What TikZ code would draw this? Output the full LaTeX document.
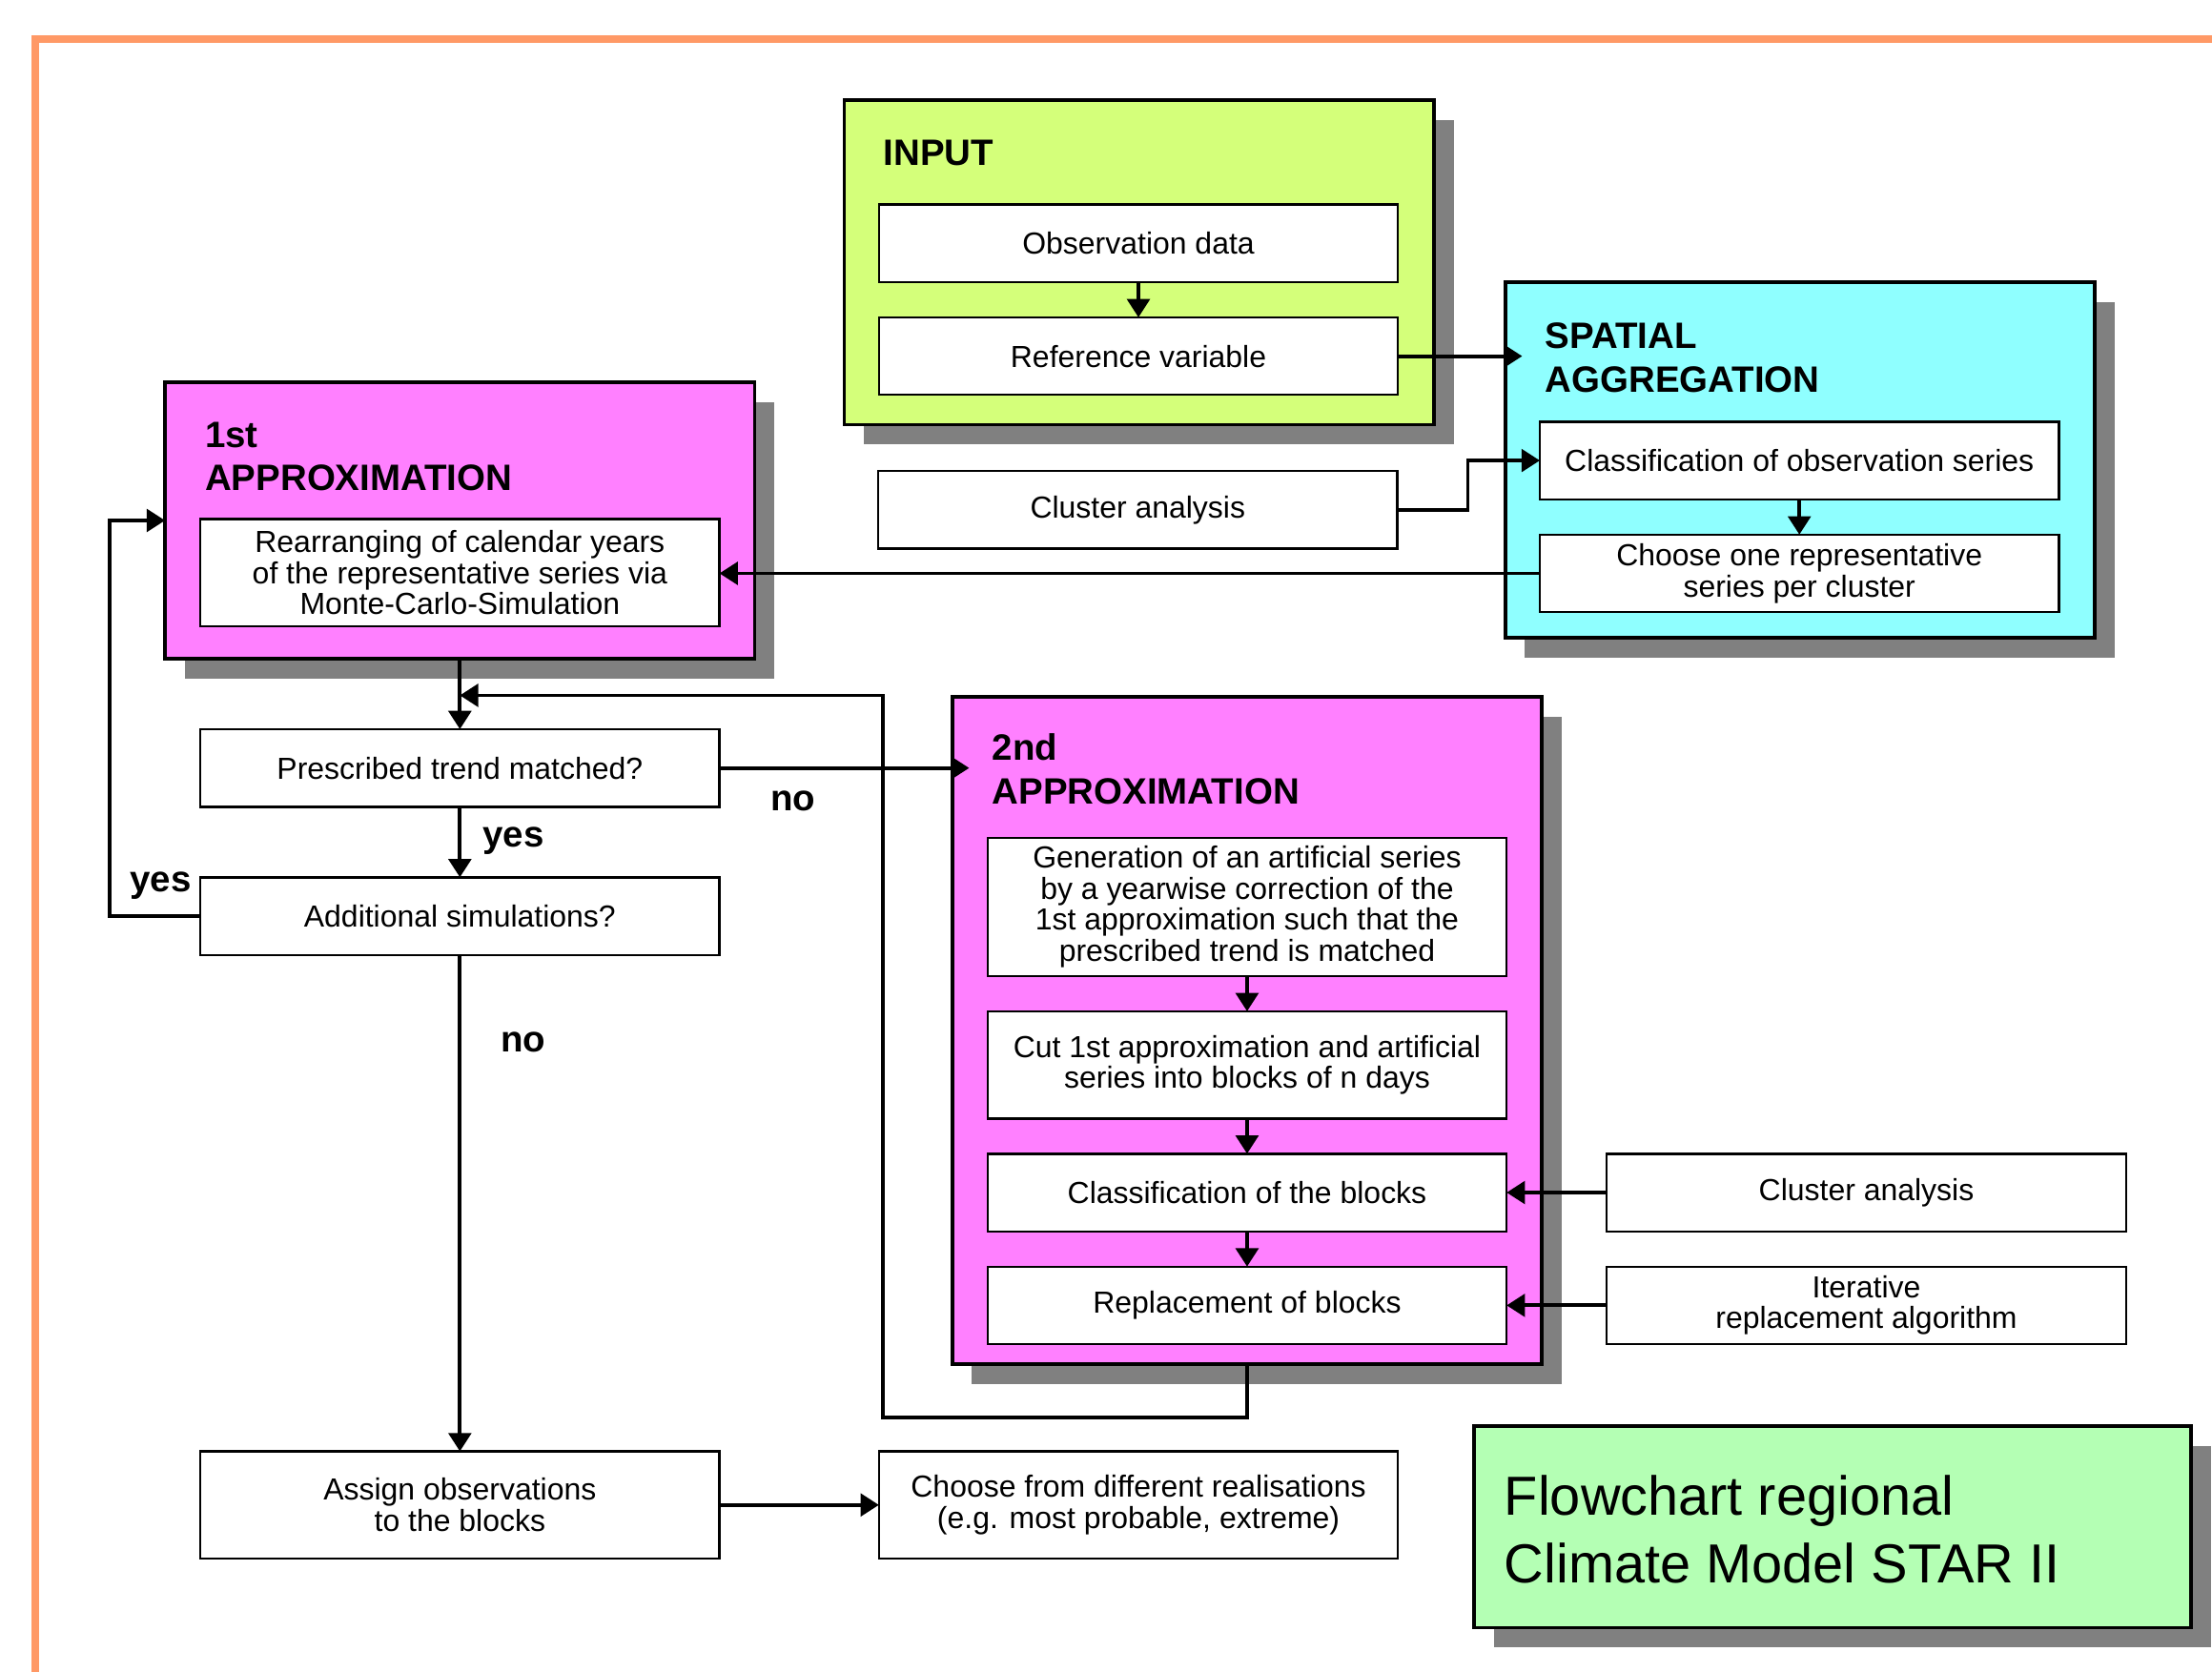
\documentclass[tikz,border=0pt]{standalone}
\usepackage{fontspec}
\setmainfont{Liberation Sans}
\usetikzlibrary{arrows.meta, positioning, calc, shadows}
\definecolor{frameor}{RGB}{255,153,102}
\definecolor{inpfill}{RGB}{212,255,122}
\definecolor{aggfill}{RGB}{143,255,255}
\definecolor{appfill}{RGB}{255,128,255}
\definecolor{titfill}{RGB}{180,255,180}
\definecolor{shade}{RGB}{128,128,128}

\begin{document}
\begin{tikzpicture}[
  x=0.5pt, y=-0.5pt,
  font=\fontsize{10.8}{11}\selectfont,
  box/.style={draw, fill=white, align=center, inner sep=2pt, outer sep=0pt,
              line width=0.8pt, minimum width=184pt, minimum height=27.5pt},
  panel/.style={draw, line width=1.2pt, minimum width=209pt, outer sep=0pt,
                drop shadow={shadow xshift=7pt, shadow yshift=-7pt, fill=shade, opacity=1}},
  head/.style={anchor=base west, align=left, inner sep=0pt,
               font=\fontsize{13}{15.5}\selectfont\bfseries},
  lbl/.style={inner sep=0pt, font=\fontsize{13}{15}\selectfont\bfseries},
  flow/.style={-{Triangle[length=6.5pt, width=8pt]}, line width=1.3pt},
  node distance=12.5pt,
]
\useasboundingbox (0,0) rectangle (1568,1185);
\draw[frameor, line width=2.7pt] (25,1195) -- (25,28) -- (1580,28);

% containers
\node[panel, fill=inpfill, minimum height=115pt] (inp) at (807.5,186) {};
\node[panel, fill=aggfill, minimum height=126pt] (agg) at (1276,326) {};
\node[panel, fill=appfill, minimum height=98pt] (ap1) at (326,369) {};
\node[panel, fill=appfill, minimum height=236.5pt] (ap2) at (884,730.5) {};
\node[panel, fill=titfill, minimum width=254pt, minimum height=71.5pt] (tit) at (1299,1082.5) {};

% base of a two-line head sits on its last line
\node[head] (inph) at (626,117) {INPUT};
\node[head] (aggh) at (1095,278) {SPATIAL\\AGGREGATION};
\node[head] (ap1h) at (145,348) {1st\\APPROXIMATION};
\node[head] (ap2h) at (703,570) {2nd\\APPROXIMATION};
\node[head, font=\fontsize{19.5}{24}\selectfont] (tith) at (1066,1122) {Flowchart regional\\Climate Model STAR II};

% input and aggregation
\node[box] (obs) at (807,172.5) {Observation data};
\node[box, below=of obs] (ref) {Reference variable};
\node[box] (clu) at (806.5,361.5) {Cluster analysis};
\node[box] (cls) at (1275.5,326.5) {Classification of observation series};
\node[box, below=of cls] (rep) {Choose one representative\\series per cluster};

% 1st approximation
\node[box, minimum height=38pt] (rea) at (326,406) {Rearranging of calendar years\\of the representative series via\\Monte-Carlo-Simulation};
\node[box] (pres) at (326,544.5) {Prescribed trend matched?};
\node[box, below=25pt of pres] (add) {Additional simulations?};

% 2nd approximation
\node[box, minimum height=49pt] (gen) at (884,643) {Generation of an artificial series\\by a yearwise correction of the\\1st approximation such that the\\prescribed trend is matched};
\node[box, minimum height=38pt, below=of gen] (cut) {Cut 1st approximation and artificial\\series into blocks of n days};
\node[box, below=of cut] (clb) {Classification of the blocks};
\node[box, below=of clb] (rpl) {Replacement of blocks};
\node[box, right=35.5pt of clb] (clu2) {Cluster analysis};
\node[box, right=35.5pt of rpl] (itr) {Iterative\\replacement algorithm};

% output
\node[box, minimum height=38pt] (asg) at (326,1067) {Assign observations\\to the blocks};
\node[box, minimum height=38pt] (cho) at (807,1067) {Choose from different realisations\\(e.g. most probable, extreme)};

\coordinate (back) at (626,1005);
\coordinate (join) at (326,493);

\draw[flow] (obs) -- (ref);
\draw[flow, shorten >=-6pt] (ref.east) -- (ref.east -| agg.west);
\draw[flow] (clu.east) -- ++(25pt,0) |- (cls.west);
\draw[flow] (cls) -- (rep);
\draw[flow] (rep.west) -- (rep.west -| rea.east);
\draw[flow] (ap1) -- (pres);
\draw[flow] (pres) -- (add);
\draw[flow] (add.west) -- ++(-32pt,0) |- (ap1.west);
\draw[flow, shorten >=-6pt] (pres.east) -- (pres.east -| ap2.west);
\draw[flow] (add) -- (asg);
\draw[flow] (gen) -- (cut);
\draw[flow] (cut) -- (clb);
\draw[flow] (clb) -- (rpl);
\draw[flow] (clu2) -- (clb);
\draw[flow] (itr) -- (rpl);
\draw[flow] (ap2.south) |- (back) |- (join);
\draw[flow] (asg) -- (cho);

\node[lbl] (yes1) at (364,596) {yes};
\node[lbl] (yes2) at (114,628) {yes};
\node[lbl] (no1) at (562,568) {no};
\node[lbl] (no2) at (371,739) {no};
\end{tikzpicture}
\end{document}
